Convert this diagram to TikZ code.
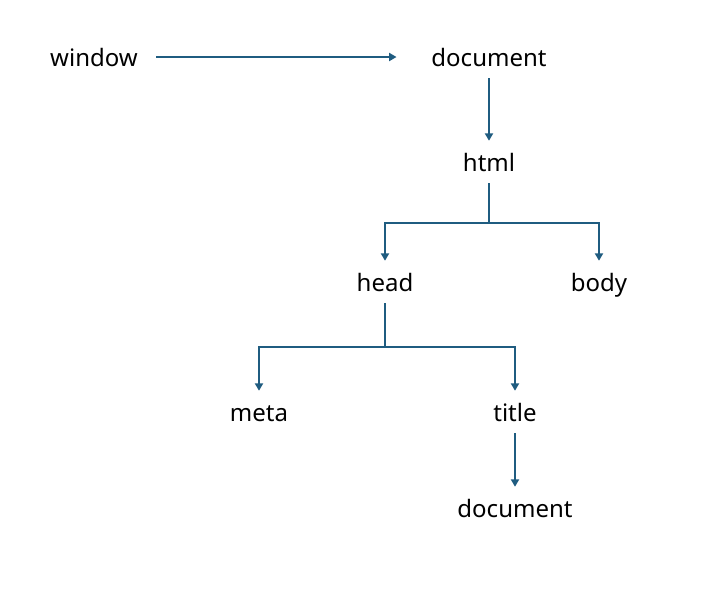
\documentclass[tikz,border=0pt]{standalone}
\usepackage{fontspec}
\setmainfont{Noto Sans}
\usetikzlibrary{arrows.meta}
\definecolor{linkblue}{RGB}{31,92,128}
\tikzset{
  lbl/.style={inner sep=0pt, text height=13.5pt, text depth=0pt, minimum height=31.5pt, font=\fontsize{18}{22}\selectfont},
  link/.style={draw=linkblue, line width=1.3pt, -{Triangle[width=6pt,length=5.5pt]}},
  bar/.style={draw=linkblue, line width=1.3pt}
}
\begin{document}
\begin{tikzpicture}[x=0.75pt, y=-0.75pt]
      \useasboundingbox (0,0) rectangle (711,612);
      \node[lbl] (win) at (94,57){window};
      \node[lbl] (doc) at (489,57){document};
      \node[lbl] (html) at (489,162){html};
      \node[lbl] (head) at (385,282){head};
      \node[lbl] (body) at (599,282){body};
      \node[lbl] (meta) at (259,412){meta};
      \node[lbl] (title) at (515,412){title};
      \node[lbl] (doc2) at (515,508){document};
      \draw[link, shorten <=13.5pt, shorten >=26pt](win) -- (doc);
      \draw[link](doc) -- (html);
      \draw[bar](html.south) -- ++(0,40);
      \draw[link](html.south) ++(0,40) -| (head.north);
      \draw[link](html.south) ++(0,40) -| (body.north);
      \draw[bar](head.south) -- ++(0,44);
      \draw[link](head.south) ++(0,44) -| (meta.north);
      \draw[link](head.south) ++(0,44) -| (title.north);
      \draw[link](title) -- (doc2);

    \end{tikzpicture}
\end{document}
